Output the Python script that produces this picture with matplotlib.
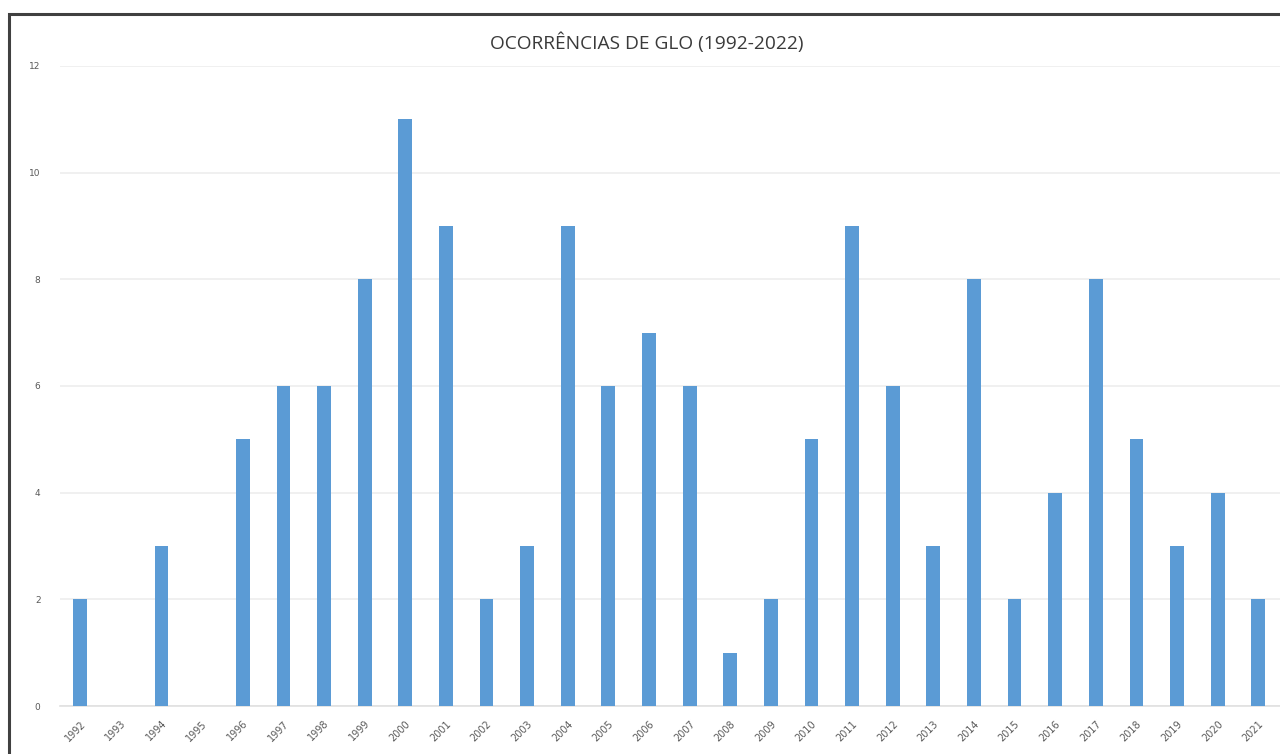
import matplotlib
matplotlib.use("Agg")
from matplotlib import pyplot as plt
from matplotlib.patches import Rectangle

years = [str(y) for y in range(1992, 2022)]
counts = [2, 0, 3, 0, 5, 6, 6, 8, 11, 9, 2, 3, 9, 6, 7, 6, 1, 2, 5, 9,
          6, 3, 8, 2, 4, 8, 5, 3, 4, 2]
y_ticks = [0, 2, 4, 6, 8, 10, 12]
title = "OCORRÊNCIAS DE GLO (1992-2022)"

BAR_COLOR = "#5b9bd5"
TEXT_COLOR = "#595959"

fig = plt.figure(figsize=(12.8, 7.54), dpi=100)
fig.patch.set_facecolor("white")

# chart frame (cropped on the right and bottom)
fig.patches.append(Rectangle((9 / 1280, -0.1), 1.2, (754 - 14) / 754 + 0.1,
                             transform=fig.transFigure, fill=False,
                             edgecolor="#404040", linewidth=2.2))

W, H = 1280, 754
left, right = 60, 1280
top, bottom = 66, 706
ax = fig.add_axes([left / W, 1 - bottom / H, (right - left) / W, (bottom - top) / H])

x = list(range(len(years)))
ax.bar(x, counts, width=0.34, color=BAR_COLOR, zorder=3)

ax.set_xlim(-0.5, (right - left) / 40.62 - 0.5)
ax.set_ylim(0, 12)
ax.set_yticks(y_ticks)
ax.set_yticklabels([str(v) for v in y_ticks], fontsize=6.5, color=TEXT_COLOR)
ax.set_xticks(x)
ax.set_xticklabels(years, rotation=45, ha="right", rotation_mode="anchor",
                   fontsize=7, color=TEXT_COLOR)
ax.tick_params(axis="both", length=0)
ax.tick_params(axis="y", pad=14)
ax.tick_params(axis="x", pad=9)

ax.grid(axis="y", color="#eeeeee", linewidth=1.2, zorder=0)
for side in ["top", "right", "left"]:
    ax.spines[side].set_visible(False)
ax.spines["bottom"].set_color("#e0e0e0")
ax.spines["bottom"].set_linewidth(1.2)

fig.text(647 / W, 1 - 43 / H, title, ha="center", va="center",
         fontsize=13.8, color="#3a3a3a", family="Open Sans")

fig.savefig("out.png", dpi=100)
